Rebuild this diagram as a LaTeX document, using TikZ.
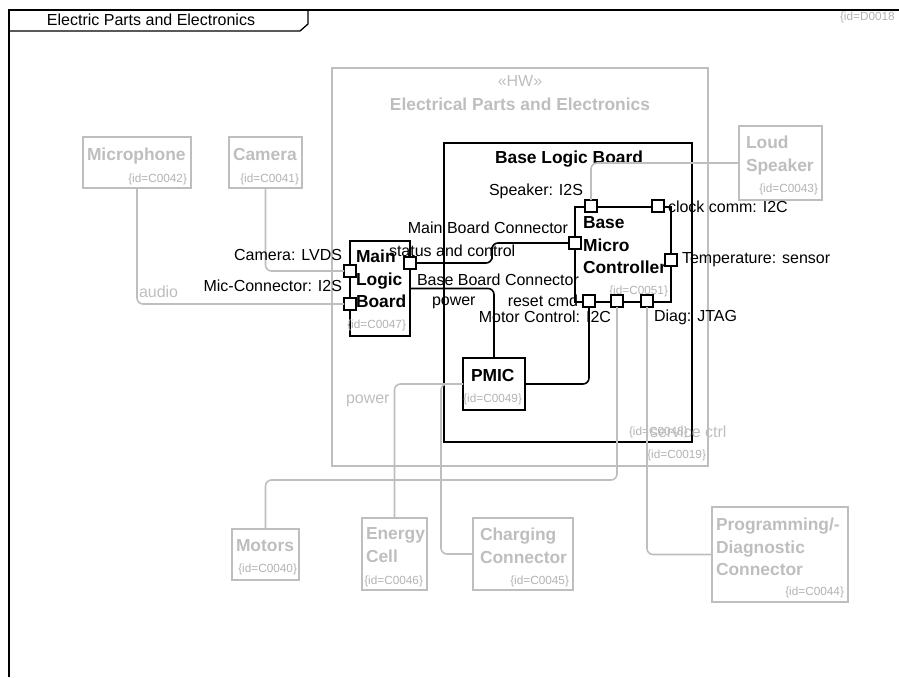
\documentclass[tikz,border=0pt]{standalone}
\usepackage{fontspec}
\setmainfont{Liberation Sans}
\usepackage{tikz}
\usetikzlibrary{positioning}
\definecolor{hwgray}{RGB}{190,190,190}
\definecolor{idgray}{RGB}{178,178,178}

\begin{document}
\begin{tikzpicture}[x=1pt,y=-1pt,
	every node/.style={inner sep=0pt,outer sep=0pt},
	lbl/.style={font=\fontsize{16}{18}\selectfont},
	ttl/.style={font=\bfseries\fontsize{17.4}{22.5}\selectfont,align=left,anchor=north west},
	idtxt/.style={font=\fontsize{11.8}{13}\selectfont,text=idgray},
	box/.style={draw,line width=1.6pt,anchor=north west},
	ext/.style={box,draw=hwgray},
	port/.style={draw,fill=white,line width=1.3pt,minimum size=12pt},
	wire/.style={line width=1.6pt,rounded corners=6pt},
	extwire/.style={wire,draw=hwgray},
	]
	\useasboundingbox (0,0) rectangle (899,677);

	% diagram frame
	\draw[line width=1.3pt] (9,677) -- (9,10) -- (899,10);
	\draw[line width=1.3pt] (9,31) -- (300,31) -- (308,24) -- (308,10);
	\node[lbl] (frame-t) at (151,20) {Electric Parts and Electronics};
	\node[idtxt,anchor=west] (frame-id) at (840,17) {\{id=D0018};

	% hardware block
	\node[ext,minimum width=376,minimum height=398] (hw) at (332,68) {};
	\node[lbl,text=hwgray] (hw-st) at (520,81) {«HW»};
	\node[ttl,anchor=center,text=hwgray] (hw-t) at (520,104) {Electrical Parts and Electronics};
	\node[idtxt,anchor=east] (hw-id) at (706,455) {\{id=C0019\}};

	\node[box,minimum width=248,minimum height=299] (blb) at (444,143) {};
	\node[ttl,anchor=center] (blb-t) at (569,159) {Base Logic Board};
	\node[idtxt,anchor=west] (blb-id) at (629,432) {\{id=C0048\}};

	\node[box,minimum width=96,minimum height=95] (bmc) at (575,207) {};
	\node[ttl] (bmc-t) at (583,217) {Base\\Micro\\Controller};
	\node[idtxt,anchor=east] (bmc-id) at (668,291) {\{id=C0051\}};

	\node[box,minimum width=60,minimum height=95] (mlb) at (350,241) {};
	\node[ttl] (mlb-t) at (356,250) {Main\\Logic\\Board};
	\node[idtxt,anchor=east] (mlb-id) at (406,325) {\{id=C0047\}};

	\node[box,minimum width=62,minimum height=52] (pmic) at (463,358) {};
	\node[ttl] (pmic-t) at (471,369) {PMIC};
	\node[idtxt,anchor=east] (pmic-id) at (522,399) {\{id=C0049\}};

	% external parts
	\node[ext,minimum width=108,minimum height=51] (mic) at (83,137) {};
	\node[ttl,text=hwgray] (mic-t) at (87,148) {Microphone};
	\node[idtxt,anchor=east] (mic-id) at (187,179) {\{id=C0042\}};

	\node[ext,minimum width=73,minimum height=51] (cam) at (229,137) {};
	\node[ttl,text=hwgray] (cam-t) at (233,148) {Camera};
	\node[idtxt,anchor=east] (cam-id) at (299,179) {\{id=C0041\}};

	\node[ext,minimum width=83,minimum height=74] (spk) at (739,126) {};
	\node[ttl,text=hwgray] (spk-t) at (746,136) {Loud\\Speaker};
	\node[idtxt,anchor=east] (spk-id) at (818,189) {\{id=C0043\}};

	\node[ext,minimum width=67,minimum height=51] (mot) at (232,529) {};
	\node[ttl,text=hwgray] (mot-t) at (236,540) {Motors};
	\node[idtxt,anchor=east] (mot-id) at (297,569) {\{id=C0040\}};

	\node[ext,minimum width=65,minimum height=72] (cell) at (362,518) {};
	\node[ttl,text=hwgray] (cell-t) at (366,528) {Energy\\Cell};
	\node[idtxt,anchor=east] (cell-id) at (423,581) {\{id=C0046\}};

	\node[ext,minimum width=100,minimum height=72] (chg) at (473,518) {};
	\node[ttl,text=hwgray] (chg-t) at (480,528) {Charging\\Connector};
	\node[idtxt,anchor=east] (chg-id) at (569,581) {\{id=C0045\}};

	\node[ext,minimum width=136,minimum height=95] (prog) at (712,507) {};
	\node[ttl,text=hwgray] (prog-t) at (716,518) {Programming/-\\Diagnostic\\Connector};
	\node[idtxt,anchor=east] (prog-id) at (844,592) {\{id=C0044\}};

	% ports
	\node[port] (mlb-cam) at (350,271) {};
	\node[port] (mlb-mic) at (350,304) {};
	\node[port] (mlb-sc) at (410,263) {};
	\node[port] (bmc-spk) at (591,206) {};
	\node[port] (bmc-clk) at (658,206) {};
	\node[port] (bmc-sc) at (575,243) {};
	\node[port] (bmc-tmp) at (671,260) {};
	\node[port] (bmc-rst) at (589,301) {};
	\node[port] (bmc-mot) at (617,301) {};
	\node[port] (bmc-diag) at (647,301) {};

	% connectors
	\draw[extwire] (cam.south) |- (mlb-cam.west);
	\draw[extwire] (mic.south) |- (mlb-mic.west);
	\draw[extwire] (bmc-spk.north) |- (spk.west);
	\draw[wire] (mlb-sc.east) -| (492,253) |- (bmc-sc.west);
	\draw[wire] (mlb.east) -| (pmic.north);
	\draw[wire] (bmc-rst.south) |- (pmic.east);
	\draw[extwire] (bmc-mot.south) |- (441,480) -| (mot.north);
	\draw[extwire] (bmc-diag.south) |- (prog.west);
	\draw[extwire] (pmic.west) -| (cell.north);
	\draw[extwire] (pmic.west) -| (441,470) |- (chg.west);

	% port and connector labels
	\node[lbl,anchor=east] (cam-l) at (342,255) {Camera: LVDS};
	\node[lbl,anchor=east] (mic-l) at (342,286) {Mic-Connector: I2S};
	\node[lbl,text=hwgray,anchor=west] (audio-l) at (139,292) {audio};
	\node[lbl,anchor=east] (spk-l) at (583,191) {Speaker: I2S};
	\node[lbl,anchor=west] (clk-l) at (668,207) {clock comm: I2C};
	\node[lbl,anchor=west] (tmp-l) at (682,260) {Temperature: sensor};
	\node[lbl,anchor=east] (mbc-l) at (568,228) {Main Board Connector};
	\node[lbl,anchor=west] (sc-l) at (389,251) {status and control};
	\node[lbl,anchor=west] (bbc-l) at (417,280) {Base Board Connector};
	\node[lbl,anchor=west] (pwr-l) at (432,303) {power};
	\node[lbl,anchor=east] (rst-l) at (578,301) {reset cmd};
	\node[lbl,anchor=east] (motc-l) at (611,317) {Motor Control: I2C};
	\node[lbl,anchor=west] (diag-l) at (654,317) {Diag: JTAG};
	\node[lbl,text=hwgray,anchor=west] (epwr-l) at (346,401) {power};
	\node[lbl,text=hwgray,anchor=west] (svc-l) at (650,432) {service ctrl};
\end{tikzpicture}
\end{document}
